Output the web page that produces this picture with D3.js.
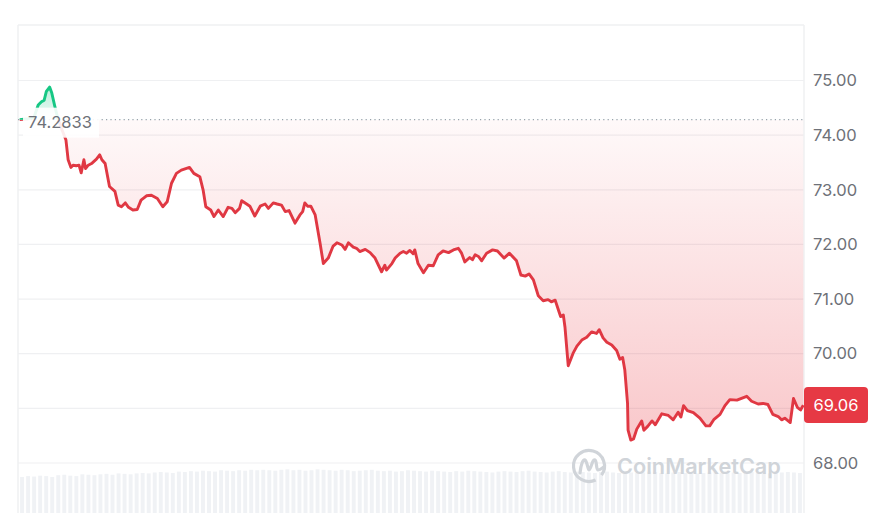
<!DOCTYPE html>
<html><head><meta charset="utf-8">
<script src="https://cdn.jsdelivr.net/npm/d3@7"></script>
<style>
html,body{margin:0;padding:0;background:#fff;}
svg{display:block;}
</style></head>
<body>
<svg id="chart" width="879" height="513"></svg>
<script>
// ---- data (minutes since start, price) ----
const minutes = [0,15,26,34,40,45,49,55,59,64,70,78,85,89,94,98,104,109,113,118,121,126,132,141,147,151,157,165,175,181,187,194,200,208,216,223,233,242,253,263,271,279,288,297,312,320,331,337,342,351,357,365,374,383,390,396,404,408,417,423,432,442,451,457,466,473,481,488,495,506,515,520,524,529,535,543,552,558,567,576,583,592,598,604,613,619,625,635,644,653,665,671,674,684,690,699,705,711,717,723,726,732,742,751,760,769,778,788,797,806,812,818,827,832,837,843,849,858,869,878,890,900,913,921,929,936,944,953,962,971,977,984,990,994,999,1002,1008,1017,1024,1033,1042,1051,1060,1065,1072,1079,1088,1097,1103,1108,1112,1117,1118,1123,1128,1134,1143,1147,1154,1162,1168,1180,1192,1201,1210,1215,1220,1227,1238,1250,1261,1268,1276,1287,1296,1305,1318,1336,1345,1357,1366,1375,1384,1394,1400,1406,1416,1422,1429,1435,1440];
const prices = [74.2833,74.30,74.32,74.55,74.61,74.64,74.80,74.88,74.77,74.55,74.31,74.09,73.91,73.55,73.41,73.45,73.44,73.45,73.31,73.55,73.39,73.45,73.48,73.56,73.64,73.55,73.48,73.06,72.97,72.72,72.69,72.76,72.68,72.63,72.64,72.81,72.89,72.90,72.84,72.69,72.78,73.12,73.30,73.36,73.41,73.30,73.24,73.00,72.69,72.63,72.51,72.63,72.51,72.68,72.66,72.58,72.66,72.80,72.74,72.70,72.52,72.70,72.74,72.66,72.76,72.74,72.72,72.60,72.62,72.39,72.54,72.60,72.76,72.70,72.70,72.54,72.02,71.65,71.75,71.97,72.03,71.99,71.91,72.03,71.95,71.93,71.87,71.91,71.85,71.75,71.50,71.62,71.53,71.65,71.75,71.84,71.87,71.84,71.89,71.83,71.90,71.65,71.48,71.62,71.61,71.81,71.88,71.85,71.90,71.93,71.84,71.68,71.76,71.72,71.81,71.78,71.70,71.84,71.90,71.88,71.75,71.84,71.70,71.44,71.42,71.46,71.35,71.06,70.97,70.99,70.95,70.98,70.80,70.68,70.71,70.49,69.78,70.01,70.14,70.25,70.30,70.40,70.37,70.44,70.29,70.21,70.16,70.06,69.90,69.93,69.70,69.09,68.60,68.42,68.44,68.62,68.77,68.60,68.67,68.77,68.70,68.90,68.87,68.79,68.93,68.84,69.05,68.96,68.92,68.82,68.68,68.68,68.80,68.89,69.05,69.16,69.15,69.22,69.13,69.08,69.09,69.07,68.89,68.85,68.79,68.82,68.74,69.18,69.02,68.97,69.06];
const yTickValues = [68,69,70,71,72,73,74,75];
const openPrice = 74.2833;
const lastPrice = 69.06;
const volumes = [80,82,81,83,82,80,84,85,83,82,86,85,84,86,87,85,88,87,86,88,
89,88,90,91,90,89,92,91,93,92,94,93,92,95,94,93,95,94,96,95,
96,95,94,96,97,95,96,94,95,97,96,95,94,96,95,93,94,95,96,94,
93,94,92,93,95,94,93,92,94,93,92,91,93,92,94,93,92,91,90,92,
93,92,91,93,94,92,91,90,92,93,91,90,92,91,90,89,91,92,90,89,
91,90,89,90,92,91,89,88,90,91,89,90,88,89,90,91,89,88,90,89,
90,91,89,90,88,89,90,91,90,89];

(function(){
const W = 879, H = 513;
const pLeft = 18, pRight = 804, pTop = 25;
const svg = d3.select("#chart");
const FONT = "Inter, 'Liberation Sans', Arial, sans-serif";
const RED = "#e03843", GREEN = "#16c784";
const series = minutes.map((m,i)=>({m, v: prices[i]}));

const x = d3.scaleLinear().domain([0, 1440]).range([19.7, 803.3]);
const y = d3.scaleLinear().domain([68, 75]).range([463, 80.5]);
const baseY = y(openPrice);

const defs = svg.append("defs");
defs.append("clipPath").attr("id","clipUp").append("rect")
  .attr("x", pLeft).attr("y", 0).attr("width", pRight-pLeft).attr("height", baseY);
defs.append("clipPath").attr("id","clipDown").append("rect")
  .attr("x", pLeft).attr("y", baseY).attr("width", pRight-pLeft).attr("height", H-baseY);
const gr = defs.append("linearGradient").attr("id","redGrad")
  .attr("gradientUnits","userSpaceOnUse").attr("x1",0).attr("x2",0)
  .attr("y1", baseY).attr("y2", y(68.4));
gr.append("stop").attr("offset","0%").attr("stop-color","#ea3943").attr("stop-opacity",0.03);
gr.append("stop").attr("offset","100%").attr("stop-color","#ea3943").attr("stop-opacity",0.28);
const gg = defs.append("linearGradient").attr("id","greenGrad")
  .attr("gradientUnits","userSpaceOnUse").attr("x1",0).attr("x2",0)
  .attr("y1", y(74.9)).attr("y2", baseY);
gg.append("stop").attr("offset","0%").attr("stop-color",GREEN).attr("stop-opacity",0.3);
gg.append("stop").attr("offset","100%").attr("stop-color",GREEN).attr("stop-opacity",0.08);

// frame
svg.append("line").attr("x1",pLeft).attr("x2",pRight).attr("y1",pTop).attr("y2",pTop)
  .attr("stroke","#eff0f2").attr("stroke-width",1.5);
svg.append("line").attr("x1",pLeft).attr("x2",pLeft).attr("y1",pTop).attr("y2",H)
  .attr("stroke","#eff0f2").attr("stroke-width",1.5);
svg.append("line").attr("x1",pRight).attr("x2",pRight).attr("y1",pTop).attr("y2",H)
  .attr("stroke","#eff0f2").attr("stroke-width",1.5);

// grid
svg.append("g").selectAll("line").data(yTickValues).join("line")
  .attr("x1",pLeft).attr("x2",pRight)
  .attr("y1",d=>y(d)).attr("y2",d=>y(d))
  .attr("stroke","#eff0f2").attr("stroke-width",1.2);

// volume bars
const xb = d3.scaleBand().domain(d3.range(volumes.length)).range([pLeft, pRight]).padding(0.35);
const yv = d3.scaleLinear().domain([0, 100]).range([H, 468]);
svg.append("g").selectAll("rect").data(volumes).join("rect")
  .attr("x",(d,i)=>xb(i)).attr("width",xb.bandwidth())
  .attr("y",d=>yv(d)).attr("height",d=>H-yv(d))
  .attr("fill","#f0f2f5");

// watermark
const WMC = "#d0d4d9";
const wm = svg.append("g").attr("transform","translate(589,466)");
wm.append("path").attr("d", d3.arc()({innerRadius:15.5, outerRadius:15.5, startAngle:2.7, endAngle:2*Math.PI+2.2}))
  .attr("fill","none").attr("stroke",WMC).attr("stroke-width",3.2).attr("stroke-linecap","round");
wm.append("path")
  .attr("d","M-9,7 C-8,-2 -6,-7 -4,-6 C-2,-5 -1,4 0,4 C2,4 3,-7 6,-6 C8,-5 7,4 9,4 C11,4 13,2 15,1")
  .attr("fill","none").attr("stroke",WMC).attr("stroke-width",3.2).attr("stroke-linecap","round");
svg.append("text").attr("x",617).attr("y",474).text("CoinMarketCap")
  .attr("font-family",FONT).attr("font-size",21.7).attr("font-weight",600)
  .attr("fill",WMC);

// areas + lines
const area = d3.area().x(d=>x(d.m)).y0(baseY).y1(d=>y(d.v));
const line = d3.line().x(d=>x(d.m)).y(d=>y(d.v));
svg.append("path").datum(series).attr("d",area).attr("fill","url(#redGrad)").attr("clip-path","url(#clipDown)");
svg.append("path").datum(series).attr("d",area).attr("fill","url(#greenGrad)").attr("clip-path","url(#clipUp)");

// baseline dotted
svg.append("line").attr("x1",pLeft).attr("x2",pRight).attr("y1",baseY).attr("y2",baseY)
  .attr("stroke","#9aa1ab").attr("stroke-width",1.2).attr("stroke-dasharray","1.2,3.2");

svg.append("path").datum(series).attr("d",line).attr("fill","none")
  .attr("stroke",RED).attr("stroke-width",2.9).attr("stroke-linejoin","round")
  .attr("clip-path","url(#clipDown)");
svg.append("path").datum(series).attr("d",line).attr("fill","none")
  .attr("stroke",GREEN).attr("stroke-width",2.9).attr("stroke-linejoin","round")
  .attr("clip-path","url(#clipUp)");

// open price label
svg.append("rect").attr("x",23).attr("y",baseY-12).attr("width",76).attr("height",30)
  .attr("fill","#fff").attr("opacity",0.9);
svg.append("text").attr("x",28).attr("y",baseY+3.5).attr("dy","0.32em").text(d3.format(".4f")(openPrice))
  .attr("font-family",FONT).attr("font-size",16.5).attr("fill","#6e7178");

// right axis (the label hidden under the last-price tag is omitted)
const axis = d3.axisRight(y).tickValues(yTickValues).tickFormat(d3.format(".2f")).tickSize(0).tickPadding(9);
const ga = svg.append("g").attr("transform",`translate(${pRight},0)`).call(axis);
ga.select(".domain").remove();
ga.selectAll("text").attr("font-family",FONT).attr("font-size",16.5).attr("fill","#6e7178");
ga.selectAll(".tick").filter(d => Math.abs(y(d) - y(lastPrice)) < 20).select("text").remove();

// last price tag
const ty = y(lastPrice);
svg.append("rect").attr("x",804).attr("y",ty-18).attr("width",64).attr("height",36)
  .attr("rx",4).attr("fill","#e63944");
svg.append("text").attr("x",836).attr("y",ty).attr("dy","0.35em").attr("text-anchor","middle")
  .text(d3.format(".2f")(lastPrice))
  .attr("font-family",FONT).attr("font-size",16.5).attr("fill","#fff");
})();
</script>
</body></html>
